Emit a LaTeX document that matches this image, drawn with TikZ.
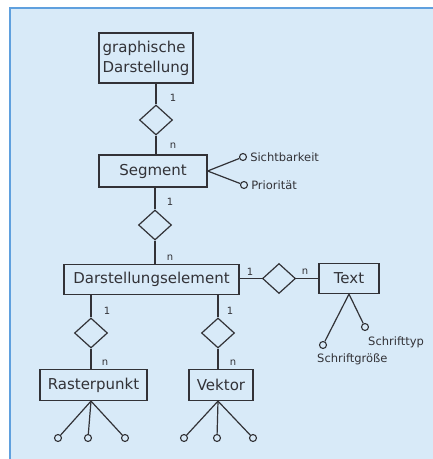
\documentclass[tikz,border=0pt]{standalone}
\usepackage{fontspec}
\setmainfont{DejaVu Sans}
\usepackage{tikz}
\usetikzlibrary{shapes.geometric, positioning}

\definecolor{panelfill}{RGB}{216,234,248}
\definecolor{panelrule}{RGB}{95,160,222}
\definecolor{ink}{RGB}{50,50,55}

\begin{document}
\begin{tikzpicture}[x=1pt, y=-1pt,
    entity/.style={draw=ink, line width=1.2pt, minimum height=31pt, inner sep=2pt,
                   font=\fontsize{15}{20}\selectfont, text=ink},
    relation/.style={diamond, draw=ink, line width=1.2pt, minimum width=33pt,
                     minimum height=30pt, inner sep=0pt},
    attr/.style={circle, draw=ink, line width=1.1pt, inner sep=0pt, minimum size=7pt},
    attrname/.style={font=\fontsize{11.5}{13}\selectfont, text=ink, inner sep=1pt},
    card/.style={font=\fontsize{10}{11}\selectfont, text=ink, inner sep=0pt},
    conn/.style={draw=ink, line width=1.2pt}]

    % panel
    \useasboundingbox (0,0) rectangle (433,459);
    \fill[white] (0,0) rectangle (433,459);
    \fill[panelfill] (10,8) rectangle (433,459);
    \draw[panelrule, line width=2pt] (10,459) -- (10,8) -- (433,8);

    % entities and relations
    \node[entity, align=left, minimum width=94pt, minimum height=50pt] (gd) at (146,58)
      {graphische\\Darstellung};
    \node[relation] (r1) at (156,120) {};
    \node[entity, minimum width=108pt, minimum height=32pt] (seg) at (153,171) {Segment};
    \node[relation] (r2) at (155,225) {};
    \node[entity, minimum width=175pt, minimum height=30pt] (de) at (151.5,279.5)
      {Darstellungselement};
    \node[relation] (r3) at (279,278.5) {};
    \node[entity, minimum width=60pt, minimum height=30pt] (txt) at (349,278.5) {Text};
    \node[relation] (r4) at (91,333) {};
    \node[relation] (r5) at (218,333) {};
    \node[entity, minimum width=107pt] (rp) at (93.5,385) {Rasterpunkt};
    \node[entity, minimum width=64pt] (vk) at (221,385) {Vektor};

    % attributes
    \node[attr] (sicht) at (243,157) {};
    \node[attr] (prio) at (244,185) {};
    \node[attrname, right=2pt of sicht] (sichtname) {Sichtbarkeit};
    \node[attrname, right=2pt of prio] (prioname) {Priorität};
    \node[attr] (styp) at (365,327) {};
    \node[attr] (sgr) at (323,345) {};
    \node[attrname, anchor=west] (stypname) at (367,342) {Schrifttyp};
    \node[attrname, anchor=west] (sgrname) at (316,359) {Schriftgröße};
    \foreach \x [count=\i] in {58,88,125}
      \node[attr] (rpa\i) at (\x,438) {};
    \foreach \x [count=\i] in {184,217,253}
      \node[attr] (vka\i) at (\x,438) {};

    % connectors
    \draw[conn] (r1.north) -- (r1.north |- gd.south);
    \draw[conn] (r1.south) -- (r1.south |- seg.north);
    \draw[conn] (r2.north) -- (r2.north |- seg.south);
    \draw[conn] (r2.south) -- (r2.south |- de.north);
    \draw[conn] (r3.west) -- (r3.west -| de.east);
    \draw[conn] (r3.east) -- (r3.east -| txt.west);
    \draw[conn] (r4.north) -- (r4.north |- de.south);
    \draw[conn] (r4.south) -- (r4.south |- rp.north);
    \draw[conn] (r5.north) -- (r5.north |- de.south);
    \draw[conn] (r5.south) -- (r5.south |- vk.north);
    \draw[conn] (sicht) -- (seg.east) -- (prio);
    \draw[conn] (styp) -- (txt.south) -- (sgr);
    \foreach \i in {1,2,3} {
      \draw[conn] (r4 |- rp.south) -- (rpa\i);
      \draw[conn] (r5 |- vk.south) -- (vka\i);
    }

    % cardinalities
    \node[card] (c1a) at (173,98) {1};
    \node[card] (c1b) at (173,146) {n};
    \node[card] (c2a) at (170,202) {1};
    \node[card] (c2b) at (170,258) {n};
    \node[card] (c3a) at (250,272) {1};
    \node[card] (c3b) at (305,272) {n};
    \node[card] (c4a) at (107,311) {1};
    \node[card] (c4b) at (105,363) {n};
    \node[card] (c5a) at (230,311) {1};
    \node[card] (c5b) at (233,363) {n};
\end{tikzpicture}
\end{document}
